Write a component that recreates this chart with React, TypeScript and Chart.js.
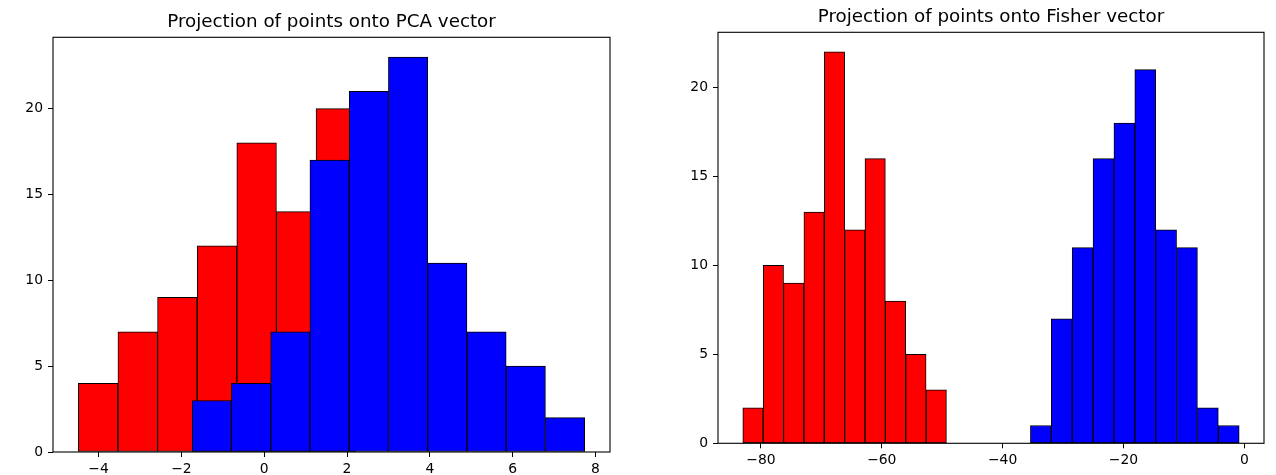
import React, { useEffect, useRef } from 'react';
import { Chart, registerables } from 'chart.js';

Chart.register(...registerables);

const W = 1276;
const H = 475;

// ---- Left panel: projection onto PCA vector ----
const pcaTitle = 'Projection of points onto PCA vector';
const pcaRedEdges = [-4.49, -3.533, -2.576, -1.619, -0.662, 0.295, 1.252, 2.209];
const pcaRedCounts = [4, 7, 9, 12, 18, 14, 20];
const pcaBlueEdges = [-1.74, -0.792, 0.156, 1.104, 2.052, 3.0, 3.948, 4.896, 5.844, 6.792, 7.74];
const pcaBlueCounts = [3, 4, 7, 17, 21, 23, 11, 7, 5, 2];
const pcaXTicks = [-4, -2, 0, 2, 4, 6, 8];
const pcaYTicks = [0, 5, 10, 15, 20];

// ---- Right panel: projection onto Fisher vector ----
const fisherTitle = 'Projection of points onto Fisher vector';
const fisherRedEdges = [-83.0, -79.63, -76.26, -72.89, -69.52, -66.15, -62.78, -59.41, -56.04, -52.67, -49.3];
const fisherRedCounts = [2, 10, 9, 13, 22, 12, 16, 8, 5, 3];
const fisherBlueEdges = [-35.4, -31.945, -28.49, -25.035, -21.58, -18.125, -14.67, -11.215, -7.76, -4.305, -0.85];
const fisherBlueCounts = [1, 7, 11, 16, 18, 21, 12, 11, 2, 1];
const fisherXTicks = [-80, -60, -40, -20, 0];
const fisherYTicks = [0, 5, 10, 15, 20];

const RED = '#ff0000';
const BLUE = '#0000ff';
const FONT = 'DejaVu Sans';

function toBars(edges: number[], counts: number[]) {
  return counts.map((c, i) => ({ x: (edges[i] + edges[i + 1]) / 2, y: c }));
}

const fmt = (v: number) => (v < 0 ? '\u2212' + Math.abs(v) : String(v));

const framePlugin = {
  id: 'frame',
  afterDatasetsDraw(chart: any) {
    const { ctx, chartArea: a } = chart;
    ctx.save();
    ctx.strokeStyle = '#000';
    ctx.lineWidth = 1.1;
    ctx.strokeRect(a.left, a.top, a.right - a.left, a.bottom - a.top);
    ctx.restore();
  },
};

interface PanelSpec {
  title: string;
  redEdges: number[];
  redCounts: number[];
  blueEdges: number[];
  blueCounts: number[];
  xTicks: number[];
  yTicks: number[];
  padding: { left: number; right: number; top: number; bottom: number };
  titlePadding: { top: number; bottom: number };
}

function makeConfig(p: PanelSpec): any {
  const allEdges = [...p.redEdges, ...p.blueEdges];
  const lo = Math.min(...allEdges);
  const hi = Math.max(...allEdges);
  const m = (hi - lo) * 0.05;
  const ymax = Math.max(...p.redCounts, ...p.blueCounts) * 1.05;
  const setTicks = (vals: number[]) => (scale: any) => {
    scale.ticks = vals.map((v) => ({ value: v }));
  };
  const tickFont = { family: FONT, size: 13.9 };
  const barCommon = {
    borderColor: '#000',
    borderWidth: 1,
    borderSkipped: false,
    barPercentage: 1,
    categoryPercentage: 1,
    grouped: false,
  };
  const gridCommon = {
    display: true,
    drawOnChartArea: false,
    drawTicks: true,
    tickLength: 5,
    color: '#000',
    lineWidth: 1,
    offset: false,
  };
  return {
    type: 'bar',
    data: {
      datasets: [
        {
          ...barCommon,
          label: 'red',
          data: toBars(p.redEdges, p.redCounts),
          xAxisID: 'x',
          yAxisID: 'y',
          backgroundColor: RED,
          order: 2,
        },
        {
          ...barCommon,
          label: 'blue',
          data: toBars(p.blueEdges, p.blueCounts),
          xAxisID: 'x2',
          yAxisID: 'y',
          backgroundColor: BLUE,
          order: 1,
        },
      ],
    },
    options: {
      animation: false,
      responsive: false,
      maintainAspectRatio: false,
      devicePixelRatio: 1,
      layout: { padding: p.padding },
      plugins: {
        legend: { display: false },
        tooltip: { enabled: false },
        title: {
          display: true,
          fullSize: false,
          text: p.title,
          color: '#000',
          font: { family: FONT, size: 18.3, weight: 'normal', lineHeight: 1.2 },
          padding: p.titlePadding,
        },
      },
      scales: {
        x: {
          type: 'linear',
          position: 'bottom',
          min: lo - m,
          max: hi + m,
          offset: false,
          afterBuildTicks: setTicks(p.xTicks),
          afterFit: (s: any) => {
            s.height = 23;
          },
          grid: gridCommon,
          border: { display: false },
          ticks: {
            color: '#000',
            font: tickFont,
            padding: 4,
            maxRotation: 0,
            autoSkip: false,
            callback: (v: any) => fmt(Number(v)),
          },
        },
        x2: {
          type: 'linear',
          position: 'bottom',
          display: false,
          min: lo - m,
          max: hi + m,
          offset: false,
          afterBuildTicks: setTicks(p.xTicks),
          grid: { offset: false },
        },
        y: {
          type: 'linear',
          min: 0,
          max: ymax,
          afterBuildTicks: setTicks(p.yTicks),
          afterFit: (s: any) => {
            s.width = 40;
          },
          grid: gridCommon,
          border: { display: false },
          ticks: {
            color: '#000',
            font: tickFont,
            padding: 5,
            autoSkip: false,
            callback: (v: any) => fmt(Number(v)),
          },
        },
      },
    },
    plugins: [framePlugin],
  };
}

const leftSpec: PanelSpec = {
  title: pcaTitle,
  redEdges: pcaRedEdges,
  redCounts: pcaRedCounts,
  blueEdges: pcaBlueEdges,
  blueCounts: pcaBlueCounts,
  xTicks: pcaXTicks,
  yTicks: pcaYTicks,
  padding: { left: 13, right: W - 610, top: 0, bottom: 0 },
  titlePadding: { top: 11.6, bottom: 3.74 },
};

const rightSpec: PanelSpec = {
  title: fisherTitle,
  redEdges: fisherRedEdges,
  redCounts: fisherRedCounts,
  blueEdges: fisherBlueEdges,
  blueCounts: fisherBlueCounts,
  xTicks: fisherXTicks,
  yTicks: fisherYTicks,
  padding: { left: 718 - 40, right: W - 1264, top: 0, bottom: 8.7 },
  titlePadding: { top: 6.6, bottom: 3.74 },
};

function Panel({ spec }: { spec: PanelSpec }) {
  const ref = useRef<HTMLCanvasElement | null>(null);
  useEffect(() => {
    if (!ref.current) return;
    const chart = new Chart(ref.current, makeConfig(spec));
    return () => chart.destroy();
  }, [spec]);
  return (
    <canvas
      ref={ref}
      width={W}
      height={H}
      style={{ position: 'absolute', left: 0, top: 0, width: W, height: H }}
    />
  );
}

export default function App() {
  return (
    <div
      style={{
        position: 'absolute',
        left: 0,
        top: 0,
        width: W,
        height: H,
        background: '#fff',
        overflow: 'hidden',
      }}
    >
      <Panel spec={leftSpec} />
      <Panel spec={rightSpec} />
    </div>
  );
}
